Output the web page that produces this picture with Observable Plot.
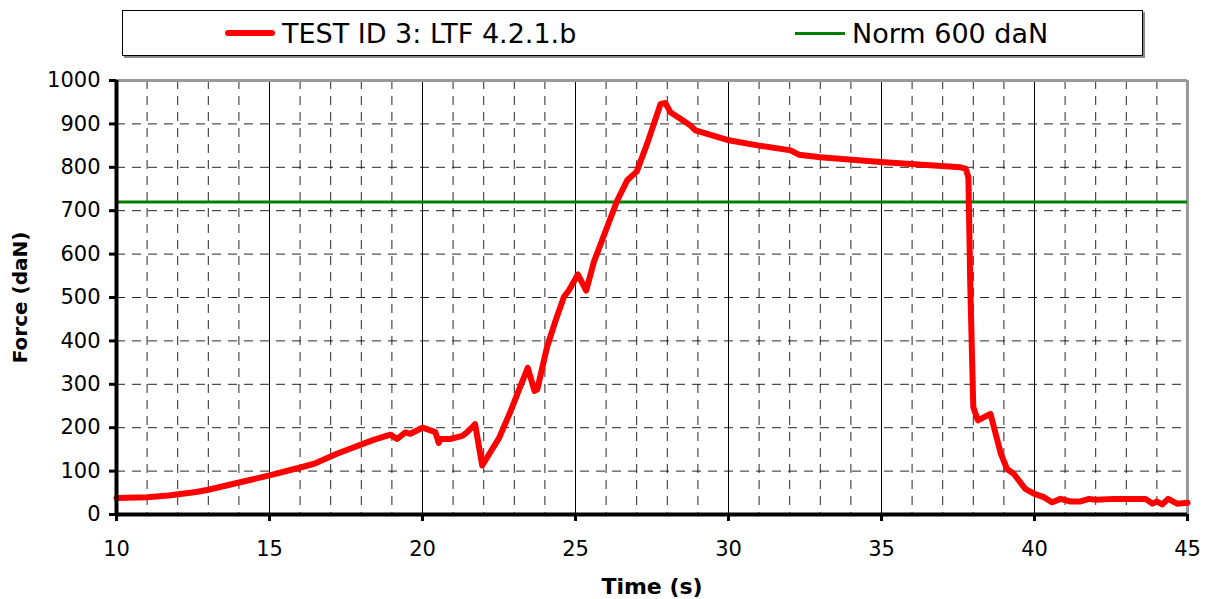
<!DOCTYPE html>
<html>
<head>
<meta charset="utf-8">
<script src="https://cdn.jsdelivr.net/npm/d3@7"></script>
<script src="https://cdn.jsdelivr.net/npm/@observablehq/plot@0.6"></script>
<style>
  body { margin: 0; background: #fff; font-family: "DejaVu Sans", Verdana, sans-serif; }
  #wrap { position: relative; width: 1207px; height: 599px; }
  #legend { position: absolute; left: 122px; top: 10px; width: 1019px; height: 44px;
    border: 1px solid #000; background: #fff; box-shadow: 2px 2px 0 #888; z-index: 2; }
  .item { position: absolute; top: 0; height: 44px; display: flex; align-items: center;
    font-size: 27px; color: #000; white-space: nowrap; }
  .swatch { display: inline-block; width: 50px; margin-right: 7px; }
</style>
</head>
<body>
<div id="wrap">
  <div id="legend"></div>
  <div id="chart"></div>
</div>
<script>
const seriesName = "TEST ID 3: LTF 4.2.1.b";
const normName = "Norm 600 daN";
const time = [10, 11, 11.7, 12.6, 13, 13.9, 15, 16.1, 16.5, 17.2, 18.4, 18.95, 19.17, 19.44, 19.6, 20.0, 20.42, 20.53, 20.6, 20.9, 21.3, 21.45, 21.72, 21.95, 22.5, 22.88, 23.1, 23.44, 23.66, 23.75, 24.07, 24.35, 24.62, 24.78, 25.08, 25.35, 25.6, 26.36, 26.69, 27.0, 27.34, 27.78, 27.94, 28.1, 28.43, 28.76, 28.92, 29.96, 30.99, 32.03, 32.3, 33.0, 34.97, 37.58, 37.75, 37.84, 37.9, 38.0, 38.15, 38.56, 38.9, 39.1, 39.32, 39.7, 39.98, 40.3, 40.58, 40.85, 41.18, 41.5, 41.78, 42.0, 42.6, 43.63, 43.85, 44.0, 44.17, 44.37, 44.66, 45];
const force = [38, 40, 44, 52, 57, 72, 90, 110, 118, 140, 172, 184, 174, 189, 186, 200, 190, 165, 174, 174, 181, 189, 208, 113, 176, 238, 278, 338, 285, 288, 386, 447, 501, 516, 553, 516, 582, 723, 770, 790, 854, 946, 948, 927, 912, 896, 885, 863, 850, 839, 829, 823, 812, 800, 797, 777, 532, 247, 217, 232, 140, 105, 94, 59, 48, 40, 28, 36, 30, 30, 36, 34, 36, 36, 25, 30, 23, 36, 25, 27];
const normValue = [720];
const xTicks = [10, 15, 20, 25, 30, 35, 40, 45];
const xMinor = d3.range(11, 45).filter(v => v % 5 !== 0);
const xMajorInner = [15, 20, 25, 30, 35, 40];
const yTicks = d3.range(0, 1001, 100);
const yGrid = d3.range(100, 901, 100);

const data = time.map((t, i) => ({t, f: force[i]}));

const legend = document.getElementById("legend");
legend.innerHTML = `
  <div class="item" style="left:102px"><span class="swatch" style="height:6px;background:#ff0000;border-radius:3px"></span>${seriesName}</div>
  <div class="item" style="left:672px"><span class="swatch" style="height:3px;background:#008000"></span>${normName}</div>`;

const chart = Plot.plot({
  width: 1207,
  height: 599,
  marginTop: 80,
  marginBottom: 85,
  marginLeft: 116,
  marginRight: 20,
  style: {fontFamily: "DejaVu Sans", fontSize: "21px", color: "#000", background: "#fff", overflow: "visible"},
  x: {domain: [10, 45]},
  y: {domain: [0, 1000]},
  marks: [
    Plot.ruleX(xMinor, {stroke: "#000", strokeWidth: 1, strokeDasharray: "9,7", strokeOpacity: 0.85}),
    Plot.ruleY(yGrid, {stroke: "#000", strokeWidth: 1, strokeDasharray: "9,7", strokeOpacity: 0.85}),
    Plot.ruleX(xMajorInner, {stroke: "#000", strokeWidth: 1}),
    Plot.ruleY([1000], {stroke: "#999", strokeWidth: 3}),
    Plot.ruleX([45], {stroke: "#999", strokeWidth: 3}),
    Plot.ruleY(normValue, {stroke: "#008000", strokeWidth: 3}),
    Plot.line(data, {x: "t", y: "f", stroke: "#ff0000", strokeWidth: 6, strokeLinejoin: "round", strokeLinecap: "round"}),
    Plot.ruleX([10], {stroke: "#000", strokeWidth: 4}),
    Plot.ruleY([0], {stroke: "#000", strokeWidth: 4}),
    Plot.axisY({ticks: yTicks, tickSize: 7, tickPadding: 9, strokeWidth: 3, label: null, fontSize: 21, tickFormat: d => String(d)}),
    Plot.axisX({ticks: xTicks, tickSize: 7, tickPadding: 20, strokeWidth: 3, label: null, fontSize: 21, tickFormat: d => String(d)}),
    Plot.text(["Time (s)"], {frameAnchor: "bottom", dy: 79, fontWeight: "bold", fontSize: 22}),
    Plot.text(["Force (daN)"], {frameAnchor: "left", dx: -96, rotate: -90, textAnchor: "middle", fontWeight: "bold", fontSize: 20})
  ]
});
document.getElementById("chart").appendChild(chart);
</script>
</body>
</html>
